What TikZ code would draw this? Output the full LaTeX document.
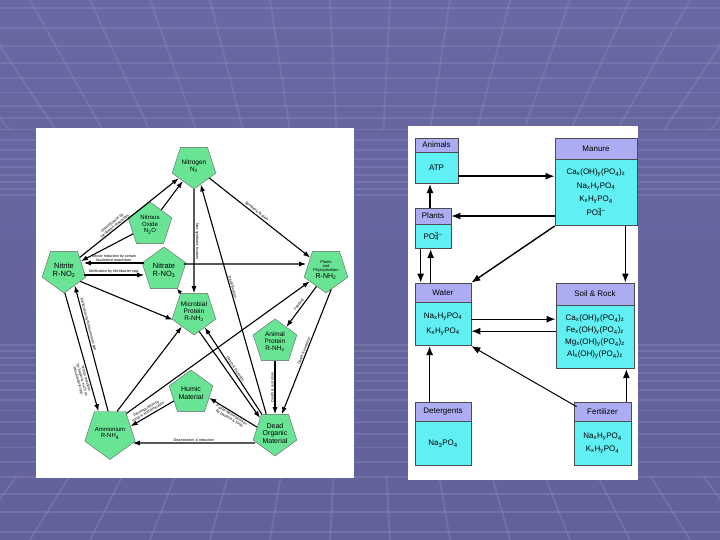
\documentclass[tikz,border=0pt]{standalone}
\usepackage{fontspec}
\setmainfont{Liberation Sans}
\usetikzlibrary{shapes.geometric,arrows.meta,calc}
\definecolor{SlideTopClr}{RGB}{104,104,162}
\definecolor{SlideClr}{RGB}{84,84,136}
\definecolor{SlideBotClr}{RGB}{98,98,154}
\definecolor{GridClr}{RGB}{134,134,188}
\definecolor{PentClr}{RGB}{104,228,148}
\definecolor{HeadClr}{RGB}{172,172,242}
\definecolor{BodyClr}{RGB}{96,240,244}
\newcommand{\chsub}[1]{\textsubscript{#1}}
\newcommand{\chion}[2]{\rlap{\textsubscript{#1}}\textsuperscript{#2}}

\begin{document}
\begin{tikzpicture}[x=1pt,y=-1pt,
  slidegrid/.style={GridClr,line width=1.8pt,opacity=0.45},
  pent/.style={regular polygon,regular polygon sides=5,minimum size=46pt,inner sep=0pt,
    draw=black!60,line width=0.4pt,fill=PentClr,align=center,font=\fontsize{6.5}{7}\selectfont},
  pentdown/.style={pent,shape border rotate=180},
  arr/.style={line width=1.1pt,-{Latex[length=7pt,width=5pt]}},
  rarr/.style={line width=1.1pt,{Latex[length=7pt,width=5pt]}-},
  lbl/.style={font=\fontsize{3.7}{4.1}\selectfont,inner sep=0.8pt,align=center},
  boxhead/.style={draw=black!70,line width=0.7pt,fill=HeadClr,inner sep=0pt,font=\fontsize{8}{9}\selectfont},
  boxbody/.style={draw=black!70,line width=0.7pt,fill=BodyClr,inner sep=0pt,align=center,anchor=north},
  bigarr/.style={line width=1.4pt,-{Latex[length=9pt,width=7pt]}}]
\useasboundingbox (0,0) rectangle (720,540);

\shade[top color=SlideTopClr,middle color=SlideClr,bottom color=SlideBotClr] (0,0) rectangle (720,540);
\foreach \k in {0,...,16}{
  \pgfmathsetmacro{\gy}{270-262*0.925^\k}
  \pgfmathsetmacro{\gyb}{270+262*0.925^\k}
  \draw[slidegrid] (0,\gy) -- (720,\gy);
  \draw[slidegrid] (0,\gyb) -- (720,\gyb);
}
\foreach \xt in {-150,-90,...,870}{
  \draw[slidegrid] (\xt,0) -- ({\xt+(360-\xt)*0.22},130);
  \draw[slidegrid] (\xt,540) -- ({\xt+(360-\xt)*0.12},476);
}

\fill[white] (36,128) rectangle (354,478);
\fill[white] (408,126) rectangle (638,480);

\node[pentdown] (nitrogen) at (194,166) {Nitrogen\\N\chsub{2}};
\node[pent,font=\fontsize{6}{6.5}\selectfont] (nitrous) at (150,225) {Nitrous\\Oxide\\N\chsub{2}O};
\node[pentdown,font=\fontsize{7.5}{8}\selectfont] (nitrite) at (64,270) {Nitrite\\R-NO\chsub{2}};
\node[pent,font=\fontsize{7.5}{8}\selectfont] (nitrate) at (164,270) {Nitrate\\R-NO\chsub{3}};
\node[pentdown,font=\fontsize{4}{4.4}\selectfont] (plants) at (326,270) {Plants\\and\\Phytoplankton\\{\fontsize{7}{7.5}\selectfont R-NH\chsub{2}}};
\node[pentdown] (microbial) at (194,312) {Microbial\\Protein\\R-NH\chsub{2}};
\node[pent] (animal) at (275,342) {Animal\\Protein\\R-NH\chsub{2}};
\node[pent,font=\fontsize{7}{7.5}\selectfont] (humic) at (191,393) {Humic\\Material};
\node[pentdown,font=\fontsize{7}{7.5}\selectfont] (dead) at (275,433) {Dead\\Organic\\Material};
\node[pentdown,font=\fontsize{6}{6.5}\selectfont] (ammonium) at (110,433) {Ammonium\\R-NH\chsub{4}};

\draw[arr] (nitrite) -- node[lbl,sloped,above,pos=0.37] {Denitrification by\\facultative anaerobes} (nitrogen);
\draw[arr] (nitrous) -- (nitrogen);
\draw[arr] (nitrous) -- (nitrite);
\draw[arr] ([yshift=7pt]nitrate.west) -- node[lbl,above] {Nitrate reduction by certain\\facultative anaerobes} ([yshift=7pt]nitrite.east);
\draw[arr] ([yshift=-5pt]nitrite.east) -- node[lbl,above] {Nitrification by Nitrobacter spp.} ([yshift=-5pt]nitrate.west);
\draw[arr] (nitrogen) -- node[lbl,sloped,above,pos=0.45] {Symbiotic fixation} (plants);
\draw[arr] (nitrogen) -- node[lbl,rotate=-90,above] {Non-symbiotic fixation} (microbial);
\draw[rarr] (nitrogen.-70) -- node[lbl,sloped,above,pos=0.45] {Denitrification} (dead.115);
\draw[arr] ([yshift=6pt]nitrate.east) -- ([yshift=6pt]plants.west);
\draw[arr] (nitrite.-35) -- (microbial.200);
\draw[line width=1.1pt,-{Latex[length=5pt,width=4.5pt]}] (microbial.125) -- (nitrate.-55);
\draw[arr] (ammonium.72) -- (microbial.-130);
\draw[arr] (microbial.-75) -- (dead.135);
\draw[rarr] (microbial.-55) -- node[lbl,sloped,above] {Death \& excretion} (dead.125);
\draw[rarr] (animal.53) -- node[lbl,sloped,above] {Feeding} (plants.-120);
\draw[rarr] (dead.70) -- node[lbl,sloped,above] {Death \& excretion} (plants.-75);
\draw[arr] (animal.-90) -- node[lbl,rotate=90,above] {Death \& excretion} (dead.90);
\draw[arr] (ammonium.50) -- (plants.-145);
\draw[rarr] (ammonium.18) -- node[lbl,sloped,above,pos=0.45] {Decomposition by\\fungi \& actinomycetes} (humic.205);
\draw[rarr] (humic.-15) -- node[lbl,sloped,below] {Partial decomposition\\by bacteria \& fungi} (dead.162);
\draw[arr] ([yshift=-10pt]dead.west) -- node[lbl,above] {Deamination \& reduction} ([yshift=-10pt]ammonium.east);
\draw[arr] (nitrite.-88) -- node[lbl,sloped,below,pos=0.72] {Nitrite reduction\\by bacteria, such as\\Desulfovibrio spp.} (ammonium.118);
\draw[rarr] (nitrite.-55) -- node[lbl,sloped,above,pos=0.32] {Nitrification by Nitrosomonas spp.} (ammonium.95);

\node[boxhead,minimum width=43pt,minimum height=14pt] (animalsH) at (436.5,145) {Animals};
\node[boxbody,minimum width=43pt,minimum height=31pt,font=\fontsize{8}{9}\selectfont] (animals) at (animalsH.south) {ATP};
\node[boxhead,minimum width=82pt,minimum height=21pt] (manureH) at (596,148.5) {Manure};
\node[boxbody,minimum width=82pt,minimum height=66pt,font=\fontsize{8}{13.5}\selectfont] (manure) at (manureH.south)
  {Ca\chsub{x}(OH)\chsub{y}(PO\chsub{4})\chsub{z}\\Na\chsub{x}H\chsub{y}PO\chsub{4}\\K\chsub{x}H\chsub{y}PO\chsub{4}\\PO\chion{4}{3--}};
\node[boxhead,minimum width=36pt,minimum height=16pt] (plantsH) at (433,216) {Plants};
\node[boxbody,minimum width=36pt,minimum height=24pt,font=\fontsize{8}{9}\selectfont] (plantsB) at (plantsH.south) {PO\chion{4}{3--}};
\node[boxhead,minimum width=56pt,minimum height=19pt] (waterH) at (443,292.5) {Water};
\node[boxbody,minimum width=56pt,minimum height=43pt,font=\fontsize{8}{15}\selectfont] (water) at (waterH.south)
  {Na\chsub{x}H\chsub{y}PO\chsub{4}\\K\chsub{x}H\chsub{y}PO\chsub{4}};
\node[boxhead,minimum width=78pt,minimum height=22pt] (soilH) at (595,294) {Soil \& Rock};
\node[boxbody,minimum width=78pt,minimum height=63pt,font=\fontsize{8}{12}\selectfont] (soil) at (soilH.south)
  {Ca\chsub{x}(OH)\chsub{y}(PO\chsub{4})\chsub{z}\\Fe\chsub{x}(OH)\chsub{y}(PO\chsub{4})\chsub{z}\\Mg\chsub{x}(OH)\chsub{y}(PO\chsub{4})\chsub{z}\\Al\chsub{x}(OH)\chsub{y}(PO\chsub{4})\chsub{z}};
\node[boxhead,minimum width=56pt,minimum height=19pt] (detH) at (443,411.5) {Detergents};
\node[boxbody,minimum width=56pt,minimum height=44pt,font=\fontsize{8}{9}\selectfont] (det) at (detH.south) {Na\chsub{3}PO\chsub{4}};
\node[boxhead,minimum width=57pt,minimum height=19pt] (fertH) at (602.5,411.5) {Fertilizer};
\node[boxbody,minimum width=57pt,minimum height=44pt,font=\fontsize{8}{13}\selectfont] (fert) at (fertH.south)
  {Na\chsub{x}H\chsub{y}PO\chsub{4}\\K\chsub{x}H\chsub{y}PO\chsub{4}};

\draw[bigarr] ([yshift=-8pt]animals.east) -- ([yshift=-8pt]animals.east -| manure.west);
\draw[bigarr] ($(plantsH.north)+(-3pt,0)$) -- ($(plantsH.north |- animals.south)+(-3pt,0)$);
\draw[bigarr] (manure.south west |- plantsH.east) -- (plantsH.east);
\draw[bigarr] (manure.south west) -- (waterH.north east);
\draw[bigarr] ($(manure.south east)+(-12pt,0)$) -- ($(manure.south east |- soilH.north)+(-12pt,0)$);
\draw[bigarr] ($(plantsB.south west)+(6pt,0)$) -- ($(plantsB.south west |- waterH.north)+(6pt,0)$);
\draw[bigarr] ($(plantsB.south west |- waterH.north)+(16pt,0)$) -- ($(plantsB.south west)+(16pt,0)$);
\draw[bigarr] ([yshift=5pt]water.east) -- ([yshift=5pt]water.east -| soil.west);
\draw[bigarr] ([yshift=-7pt]water.east -| soil.west) -- ([yshift=-7pt]water.east);
\draw[line width=1pt,-{Latex[length=9pt,width=7pt]}] ([shift={(3pt,-5pt)}]fertH.north west) -- (water.south east);
\draw[bigarr] ($(fertH.north east)+(-5pt,0)$) -- ($(fertH.north east |- soil.south)+(-5pt,0)$);
\draw[bigarr] ($(detH.north west)+(15pt,0)$) -- ($(detH.north west |- water.south)+(15pt,0)$);

\end{tikzpicture}
\end{document}
